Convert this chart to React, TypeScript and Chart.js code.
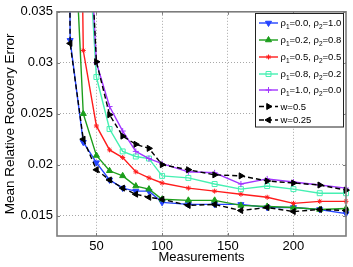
import React, { useEffect, useRef } from 'react';
import { Chart, registerables } from 'chart.js';
import { drawPoint } from 'chart.js/helpers';

Chart.register(...registerables);

const FAMILY = '"Liberation Sans", Arial, Helvetica, sans-serif';

const measurements = [20, 30, 40, 50, 60, 70, 80, 90, 100, 120, 140, 160, 180, 200, 220, 240];
const rho00 = [0.25, 0.0322, 0.0222, 0.0202, 0.0185, 0.0177, 0.0174, 0.0174, 0.0163, 0.0161, 0.0161, 0.0161, 0.0158, 0.0158, 0.0156, 0.0152];
const rho02 = [0.15, 0.052, 0.025, 0.0209, 0.0194, 0.0189, 0.0179, 0.0176, 0.0166, 0.0165, 0.0165, 0.016, 0.0159, 0.0158, 0.0156, 0.0157];
const rho05 = [0.3, 0.13, 0.0312, 0.0238, 0.02145, 0.0207, 0.0193, 0.0187, 0.0182, 0.0177, 0.0174, 0.0171, 0.0168, 0.0162, 0.0164, 0.0164];
const rho08 = [0.3, 0.12, 0.05, 0.0286, 0.0235, 0.0213, 0.0208, 0.0206, 0.0189, 0.0187, 0.0181, 0.0176, 0.0179, 0.0176, 0.0172, 0.0172];
const rho10 = [0.3, 0.12, 0.0546, 0.03, 0.0257, 0.0233, 0.0213, 0.0206, 0.0201, 0.0193, 0.0192, 0.0181, 0.0186, 0.0183, 0.018, 0.0177];
const w05 = [0.3, 0.12, 0.056, 0.0301, 0.0249, 0.0228, 0.022, 0.0216, 0.02, 0.0195, 0.019, 0.0189, 0.0184, 0.0182, 0.018, 0.0175];
const w025 = [0.25, 0.0319, 0.0225, 0.0195, 0.0185, 0.0177, 0.0171, 0.0168, 0.0166, 0.016, 0.0161, 0.0155, 0.0158, 0.0154, 0.0156, 0.0155];

const seriesLabels = ['ρ₁=0.0, ρ₂=1.0', 'ρ₁=0.2, ρ₂=0.8', 'ρ₁=0.5, ρ₂=0.5', 'ρ₁=0.8, ρ₂=0.2', 'ρ₁=1.0, ρ₂=0.0', 'w=0.5', 'w=0.25'];

const xTicks = [50, 100, 150, 200];
const yTicks = [0.015, 0.02, 0.025, 0.03, 0.035];
const yTickLabels = ['0.015', '0.02', '0.025', '0.03', '0.035'];

const FRAME = '#7c7c7c';

const toPts = (ys: number[]) => measurements.map((x, i) => ({ x, y: ys[i] }));

function drawRich(ctx: CanvasRenderingContext2D, text: string, x: number, y: number) {
  let cx = x;
  for (const ch of text) {
    const sub = ch === '₁' ? '1' : ch === '₂' ? '2' : null;
    if (sub) {
      ctx.font = `6.5px ${FAMILY}`;
      ctx.fillText(sub, cx, y + 2.5);
      cx += ctx.measureText(sub).width;
    } else {
      ctx.font = `9.5px ${FAMILY}`;
      ctx.fillText(ch, cx, y);
      cx += ctx.measureText(ch).width;
    }
  }
}

const framePlugin = {
  id: 'frame',
  afterDatasetsDraw(chart: any) {
    const { ctx, chartArea: a, scales } = chart;
    ctx.save();
    ctx.strokeStyle = FRAME;
    ctx.lineWidth = 1;
    const tl = 3;
    ctx.beginPath();
    for (const v of xTicks) {
      const px = Math.round(scales.x.getPixelForValue(v)) + 0.5;
      ctx.moveTo(px, a.bottom);
      ctx.lineTo(px, a.bottom - tl);
      ctx.moveTo(px, a.top);
      ctx.lineTo(px, a.top + tl);
    }
    for (const v of yTicks) {
      const py = Math.round(scales.y.getPixelForValue(v)) + 0.5;
      ctx.moveTo(a.left, py);
      ctx.lineTo(a.left + tl, py);
      ctx.moveTo(a.right, py);
      ctx.lineTo(a.right - tl, py);
    }
    ctx.stroke();
    ctx.lineWidth = 1.6;
    ctx.strokeRect(a.left, a.top, a.right - a.left, a.bottom - a.top);
    ctx.restore();
  },
};

const rowY = [23, 40, 57, 74, 90, 106.5, 120];

const legendPlugin = {
  id: 'customLegend',
  afterDraw(chart: any) {
    const { ctx } = chart;
    const bx = 255, by = 13.5, bw = 88, bh = 113.5;
    ctx.save();
    ctx.fillStyle = '#fff';
    ctx.fillRect(bx, by, bw, bh);
    ctx.strokeStyle = '#222';
    ctx.lineWidth = 1;
    ctx.strokeRect(bx + 0.5, by, bw, bh);
    chart.data.datasets.forEach((ds: any, i: number) => {
      const y = rowY[i];
      ctx.save();
      ctx.strokeStyle = ds.borderColor;
      ctx.lineWidth = ds.borderWidth;
      ctx.setLineDash(ds.borderDash || []);
      ctx.beginPath();
      ctx.moveTo(259, y);
      ctx.lineTo(278, y);
      ctx.stroke();
      ctx.setLineDash([]);
      ctx.fillStyle = ds.pointBackgroundColor;
      ctx.strokeStyle = ds.pointBorderColor;
      ctx.lineWidth = ds.pointBorderWidth;
      drawPoint(ctx, {
        pointStyle: ds.pointStyle,
        rotation: ds.pointRotation || 0,
        radius: ds.pointRadius,
        borderWidth: ds.pointBorderWidth,
      } as any, 268.5, y);
      ctx.restore();
      ctx.fillStyle = '#000';
      ctx.textBaseline = 'alphabetic';
      ctx.textAlign = 'left';
      drawRich(ctx, ds.label, 280.5, y + 3);
    });
    ctx.restore();
  },
};

function mk(label: string, ys: number[], color: string, style: string, rot: number, radius: number, fill: string, order: number, dash?: number[]) {
  return {
    label,
    data: toPts(ys),
    borderColor: color,
    backgroundColor: color,
    borderWidth: 1.4,
    borderDash: dash,
    pointStyle: style,
    pointRotation: rot,
    pointRadius: radius,
    pointBackgroundColor: fill,
    pointBorderColor: color,
    pointBorderWidth: 1,
    tension: 0,
    order,
    clip: { left: 0, top: 0, right: 8, bottom: 0 },
  };
}

export default function App() {
  const ref = useRef<HTMLCanvasElement | null>(null);
  useEffect(() => {
    document.body.style.margin = '0';
    const canvas = ref.current;
    if (!canvas) return;
    const chart = new Chart(canvas, {
      type: 'line',
      data: {
        datasets: [
          mk(seriesLabels[0], rho00, '#2544ff', 'triangle', 180, 3.5, '#2544ff', 6),
          mk(seriesLabels[1], rho02, '#1c9e1c', 'triangle', 0, 3.5, '#1c9e1c', 5),
          mk(seriesLabels[2], rho05, '#ff1c1c', 'star', 0, 2.5, '#ff1c1c', 4),
          mk(seriesLabels[3], rho08, '#45f0b2', 'rect', 0, 3.5, 'rgba(0,0,0,0)', 3),
          mk(seriesLabels[4], rho10, '#a236ff', 'cross', 0, 3, '#a236ff', 2),
          mk(seriesLabels[5], w05, '#000000', 'triangle', 90, 3.5, '#000000', 1, [5, 3]),
          mk(seriesLabels[6], w025, '#000000', 'triangle', 270, 3.5, '#000000', 0, [5, 3]),
        ] as any,
      },
      options: {
        animation: false,
        responsive: false,
        maintainAspectRatio: false,
        devicePixelRatio: 1,
        layout: { padding: { top: 10, right: 7, left: 0, bottom: 0 } },
        plugins: { legend: { display: false }, tooltip: { enabled: false } },
        elements: { line: { tension: 0 } },
        scales: {
          x: {
            type: 'linear',
            min: 20,
            max: 240,
            afterBuildTicks: (s: any) => { s.ticks = xTicks.map((v) => ({ value: v })); },
            afterFit: (s: any) => { s.height = 31; },
            ticks: { font: { family: FAMILY, size: 13 }, color: '#000', padding: 3, maxRotation: 0, autoSkip: false },
            grid: { color: '#a8a8a8', drawTicks: false, lineWidth: 1 },
            border: { display: false, dash: [1, 2] },
            title: { display: true, text: 'Measurements', font: { family: FAMILY, size: 13 }, color: '#000', padding: { top: 0, bottom: 2 } },
          },
          y: {
            type: 'linear',
            min: 0.013,
            max: 0.035,
            afterBuildTicks: (s: any) => { s.ticks = yTicks.map((v) => ({ value: v })); },
            afterFit: (s: any) => { s.width = 57; },
            ticks: {
              font: { family: FAMILY, size: 13 },
              color: '#000',
              padding: 4,
              autoSkip: false,
              callback: (v: any) => {
                const i = yTicks.findIndex((t) => Math.abs(t - Number(v)) < 1e-9);
                return i >= 0 ? yTickLabels[i] : '';
              },
            },
            grid: { color: '#a8a8a8', drawTicks: false, lineWidth: 1 },
            border: { display: false, dash: [1, 2] },
            title: { display: true, text: 'Mean Relative Recovery Error', font: { family: FAMILY, size: 13.5 }, color: '#000', padding: { top: 2, bottom: 0 } },
          },
        },
      } as any,
      plugins: [framePlugin, legendPlugin],
    });
    return () => chart.destroy();
  }, []);
  return (
    <div style={{ width: 353, height: 267 }}>
      <canvas ref={ref} width={353} height={267} style={{ display: 'block' }} />
    </div>
  );
}
